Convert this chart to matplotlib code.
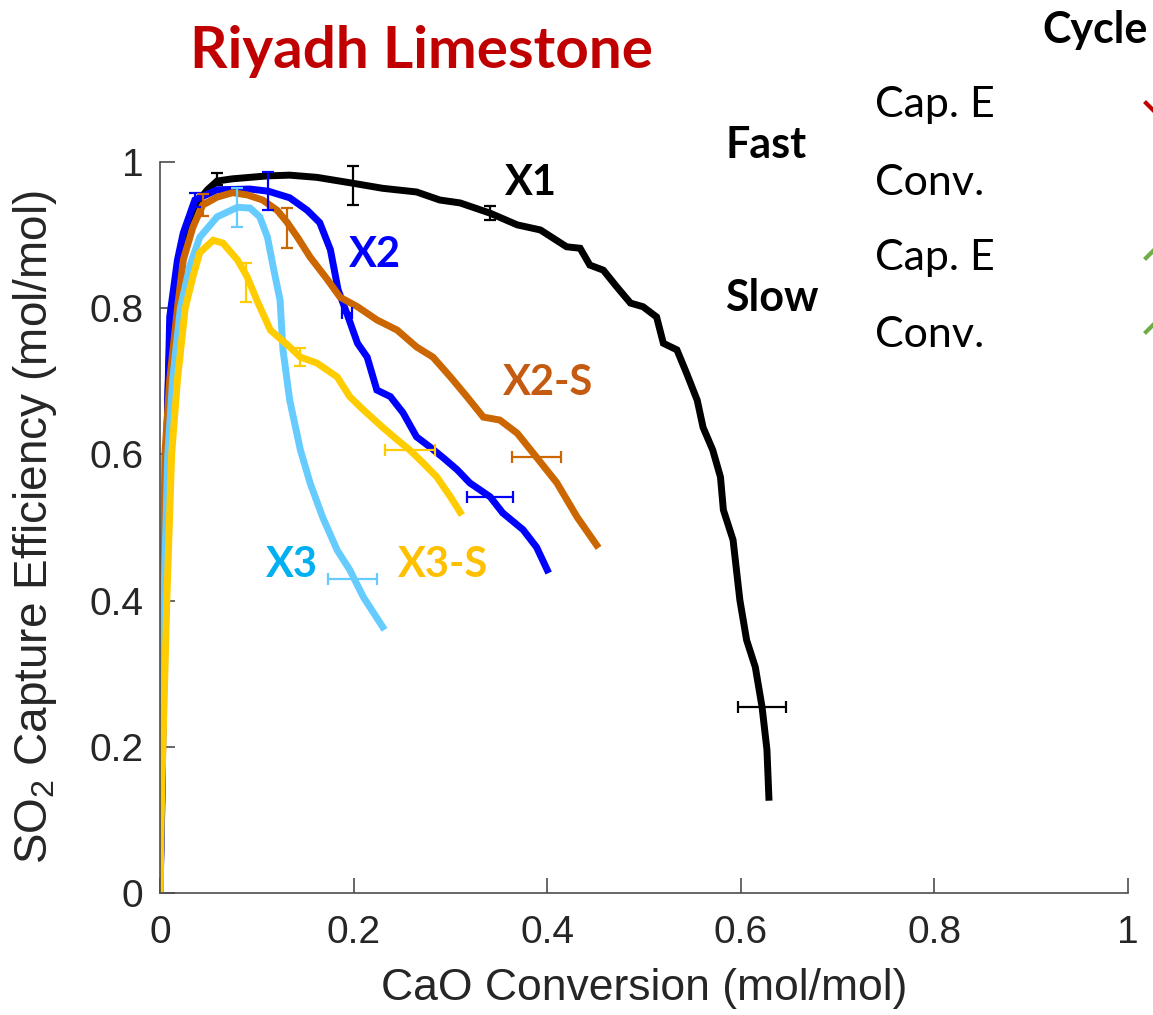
import matplotlib
matplotlib.use("Agg")
import matplotlib.pyplot as plt
from matplotlib.lines import Line2D

plt.rcParams['font.family'] = ['Liberation Sans', 'DejaVu Sans']

# CaO conversion (x) vs SO2 capture efficiency (y) for each run
x1_x = [0, 0.002, 0.004, 0.006, 0.008, 0.011, 0.019, 0.026, 0.036, 0.049, 0.059, 0.075,
        0.111, 0.134, 0.162, 0.199, 0.230, 0.265, 0.289, 0.310, 0.341, 0.369, 0.393,
        0.420, 0.434, 0.444, 0.458, 0.472, 0.486, 0.499, 0.513, 0.520, 0.534, 0.544,
        0.555, 0.561, 0.571, 0.579, 0.582, 0.592, 0.599, 0.606, 0.615, 0.622, 0.627, 0.629]
x1_y = [0, 0.155, 0.332, 0.538, 0.674, 0.788, 0.866, 0.907, 0.941, 0.962, 0.974, 0.977,
        0.981, 0.982, 0.979, 0.971, 0.964, 0.959, 0.948, 0.944, 0.930, 0.914, 0.907,
        0.884, 0.882, 0.859, 0.852, 0.829, 0.807, 0.802, 0.788, 0.752, 0.743, 0.711,
        0.674, 0.637, 0.606, 0.569, 0.524, 0.483, 0.401, 0.346, 0.309, 0.254, 0.196, 0.131]

x2_x = [0, 0.002, 0.004, 0.006, 0.008, 0.010, 0.018, 0.024, 0.036, 0.059, 0.093, 0.112,
        0.134, 0.152, 0.165, 0.176, 0.184, 0.193, 0.204, 0.214, 0.224, 0.238, 0.251,
        0.265, 0.279, 0.292, 0.307, 0.320, 0.341, 0.354, 0.375, 0.389, 0.400]
x2_y = [0, 0.127, 0.332, 0.538, 0.674, 0.788, 0.866, 0.903, 0.948, 0.962, 0.963, 0.960,
        0.951, 0.934, 0.917, 0.880, 0.825, 0.793, 0.752, 0.733, 0.688, 0.679, 0.657,
        0.624, 0.610, 0.596, 0.579, 0.561, 0.542, 0.520, 0.497, 0.473, 0.442]

x2s_x = [0, 0.001, 0.003, 0.005, 0.010, 0.018, 0.024, 0.034, 0.044, 0.059, 0.075, 0.090,
         0.106, 0.121, 0.131, 0.142, 0.155, 0.173, 0.186, 0.204, 0.224, 0.245, 0.265,
         0.282, 0.300, 0.317, 0.334, 0.351, 0.369, 0.389, 0.410, 0.431, 0.451]
x2s_y = [0, 0.100, 0.400, 0.600, 0.702, 0.800, 0.866, 0.911, 0.941, 0.952, 0.958, 0.955,
         0.948, 0.934, 0.918, 0.897, 0.870, 0.839, 0.815, 0.802, 0.784, 0.770, 0.747,
         0.733, 0.706, 0.679, 0.651, 0.647, 0.629, 0.596, 0.561, 0.514, 0.476]

x3_x = [0, 0.002, 0.004, 0.008, 0.013, 0.021, 0.031, 0.041, 0.059, 0.080, 0.093, 0.103,
        0.111, 0.117, 0.124, 0.127, 0.134, 0.145, 0.155, 0.168, 0.183, 0.196, 0.210, 0.230]
x3_y = [0, 0.200, 0.400, 0.600, 0.702, 0.800, 0.859, 0.897, 0.925, 0.938, 0.937, 0.925,
        0.897, 0.856, 0.811, 0.743, 0.674, 0.606, 0.561, 0.514, 0.469, 0.442, 0.405, 0.364]

x3s_x = [0, 0.001, 0.003, 0.007, 0.012, 0.018, 0.026, 0.034, 0.041, 0.055, 0.065, 0.080,
         0.090, 0.100, 0.114, 0.134, 0.145, 0.162, 0.183, 0.196, 0.210, 0.230, 0.245,
         0.258, 0.272, 0.286, 0.300, 0.310]
x3s_y = [0, 0.100, 0.200, 0.400, 0.600, 0.702, 0.800, 0.843, 0.876, 0.893, 0.889, 0.866,
         0.843, 0.811, 0.770, 0.747, 0.733, 0.725, 0.706, 0.679, 0.661, 0.637, 0.620,
         0.606, 0.588, 0.569, 0.542, 0.521]

# error bars: (x, y, xerr, yerr)
x1_err = [(0.059, 0.977, 0, 0.008), (0.199, 0.968, 0, 0.027),
          (0.341, 0.930, 0, 0.010), (0.622, 0.254, 0.025, 0)]
x2_err = [(0.036, 0.948, 0, 0.010), (0.112, 0.960, 0, 0.026),
          (0.193, 0.793, 0.005, 0), (0.341, 0.542, 0.024, 0)]
x2s_err = [(0.044, 0.941, 0, 0.015), (0.131, 0.910, 0, 0.027), (0.389, 0.596, 0.025, 0)]
x3_err = [(0.080, 0.938, 0, 0.027), (0.199, 0.430, 0.025, 0)]
x3s_err = [(0.089, 0.835, 0, 0.027), (0.145, 0.733, 0, 0.012), (0.258, 0.606, 0.026, 0)]

series = [
    ("X1", x1_x, x1_y, x1_err, "#000000"),
    ("X2", x2_x, x2_y, x2_err, "#0000FF"),
    ("X2-S", x2s_x, x2s_y, x2s_err, "#CC6600"),
    ("X3", x3_x, x3_y, x3_err, "#66CCFF"),
    ("X3-S", x3s_x, x3s_y, x3s_err, "#FFCC00"),
]

# curve labels: text, x, y, colour
curve_labels = [
    ("X1", 0.383, 0.971, "#000000"),
    ("X2", 0.222, 0.873, "#0000FF"),
    ("X2-S", 0.401, 0.698, "#C55A11"),
    ("X3", 0.136, 0.449, "#00B0F0"),
    ("X3-S", 0.292, 0.449, "#FFC000"),
]

ticks = [0, 0.2, 0.4, 0.6, 0.8, 1]
tick_labels = ['0', '0.2', '0.4', '0.6', '0.8', '1']

fig = plt.figure(figsize=(11.53, 10.15), dpi=100)
ax = fig.add_axes([0.1388, 0.1202, 0.8395, 0.7202])

for name, xs, ys, errs, col in series:
    ax.plot(xs, ys, color=col, lw=5, solid_joinstyle='miter', zorder=2)
    for ex, ey, xe, ye in errs:
        ax.errorbar([ex], [ey], xerr=[xe] if xe else None, yerr=[ye] if ye else None,
                    fmt='none', ecolor=col, elinewidth=1.6, capsize=4, capthick=1.6, zorder=3)

for txt, tx, ty, col in curve_labels:
    ax.text(tx, ty, txt, color=col, fontsize=30, fontweight='bold', family='Lato',
            ha='center', va='center')

ax.set_xlim(0, 1)
ax.set_ylim(0, 1)
ax.set_xticks(ticks)
ax.set_yticks(ticks)
ax.set_xticklabels(tick_labels)
ax.set_yticklabels(tick_labels)
for s in ['top', 'right']:
    ax.spines[s].set_visible(False)
for s in ['left', 'bottom']:
    ax.spines[s].set_color('#4d4d4d')
    ax.spines[s].set_linewidth(1.2)
ax.tick_params(direction='in', length=11, width=1.2, colors='#4d4d4d',
               labelcolor='#262626', labelsize=28)
ax.tick_params(axis='x', pad=16)
ax.tick_params(axis='y', pad=12)
ax.set_xlabel('CaO Conversion (mol/mol)', fontsize=32, color='#262626', va='center')
ax.set_ylabel('SO$_{\\mathregular{2}}$ Capture Efficiency (mol/mol)', fontsize=33,
              color='#262626', va='center')
ax.xaxis.set_label_coords(0.5, -0.130)
ax.yaxis.set_label_coords(-0.129, 0.5)

# title and the cycle key on the right
fig.text(0.366, 0.949, 'Riyadh Limestone', color='#C00000', fontsize=42,
         fontweight='bold', family='Lato', ha='center', va='center')
fig.text(0.950, 0.970, 'Cycle', color='#000000', fontsize=31, fontweight='bold',
         family='Lato', ha='center', va='center')
for txt, fx, fy, bold in [('Cap. E', 0.759, 0.897, False), ('Fast', 0.629, 0.857, True),
                          ('Conv.', 0.759, 0.820, False), ('Cap. E', 0.759, 0.746, False),
                          ('Slow', 0.629, 0.706, True), ('Conv.', 0.759, 0.670, False)]:
    fig.text(fx, fy, txt, color='#000000', fontsize=31, family='Lato',
             fontweight='bold' if bold else 'normal', ha='left', va='center')

for (xa, ya, xb, yb), col in [((1146, 103, 1156, 113), '#C00000'),
                              ((1146, 258, 1156, 248), '#70AD47'),
                              ((1146, 332, 1156, 322), '#70AD47')]:
    fig.add_artist(Line2D([xa / 1153, xb / 1153], [1 - ya / 1015, 1 - yb / 1015],
                          color=col, lw=3, transform=fig.transFigure))

fig.savefig('out.png', dpi=100)
